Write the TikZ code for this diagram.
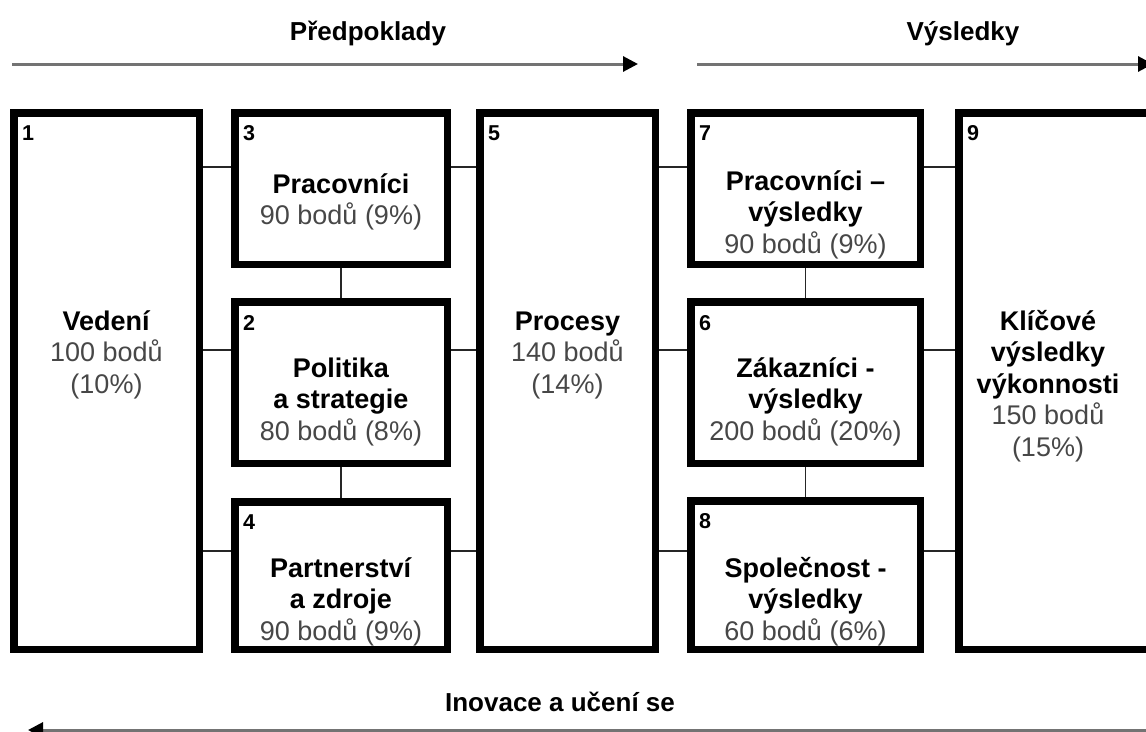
\documentclass[tikz,border=0pt]{standalone}
\usepackage{fontspec}
\setmainfont{Liberation Sans}
\usetikzlibrary{arrows.meta}
\definecolor{ptcol}{gray}{0.28}
\definecolor{flowcol}{gray}{0.45}
\newcommand\ptsline[1]{{\color{ptcol}#1}}
\begin{document}
\begin{tikzpicture}[x=1pt,y=-1pt,
  box/.style={draw=black, line width=7.5pt, rectangle, inner sep=0pt},
  % multi-line nodes: the base anchor sits on the last line
  txt/.style={anchor=base, align=center, inner sep=0pt,
    font=\fontsize{27}{31.5}\selectfont},
  num/.style={anchor=base west, inner sep=0pt,
    font=\fontsize{21.5}{25}\selectfont\bfseries},
  hdr/.style={anchor=base, inner sep=0pt,
    font=\fontsize{26}{30}\selectfont\bfseries},
  link/.style={draw=black!85, line width=1.4pt},
  flow/.style={draw=flowcol, line width=3pt,
    -{Triangle[length=15pt,width=15pt,color=black]}}]
\useasboundingbox (0,0) rectangle (1146,731);

% criteria boxes
\node[box, minimum width=185.5pt, minimum height=536.5pt] (b1) at (106.5,381) {};
\node[box, minimum width=212.5pt, minimum height=151.5pt] (b3) at (341,188.5) {};
\node[box, minimum width=212.5pt, minimum height=161.5pt] (b2) at (341,382.5) {};
\node[box, minimum width=212.5pt, minimum height=147.5pt] (b4) at (341,575.5) {};
\node[box, minimum width=175.5pt, minimum height=536.5pt] (b5) at (567.5,381) {};
\node[box, minimum width=229.5pt, minimum height=151.5pt] (b7) at (805.5,188.5) {};
\node[box, minimum width=229.5pt, minimum height=161.5pt] (b6) at (805.5,382.5) {};
\node[box, minimum width=229.5pt, minimum height=148.5pt] (b8) at (805.5,575) {};
\node[box, minimum width=206.5pt, minimum height=536.5pt] (b9) at (1062,381) {};

% box numbers
\node[num] (n1) at (22,140) {1};
\node[num] (n3) at (243,140) {3};
\node[num] (n2) at (243,330) {2};
\node[num] (n4) at (243,529) {4};
\node[num] (n5) at (488,140) {5};
\node[num] (n7) at (699,140) {7};
\node[num] (n6) at (699,330) {6};
\node[num] (n8) at (699,528) {8};
\node[num] (n9) at (967,140) {9};

% box contents
\node[txt] (t1) at (106.5,393) {\textbf{Vedení}\\\ptsline{100 bodů}\\\ptsline{(10\%)}};
\node[txt] (t3) at (341,224.5) {\textbf{Pracovníci}\\\ptsline{90 bodů (9\%)}};
\node[txt] (t2) at (341,440) {\textbf{Politika}\\\textbf{a strategie}\\\ptsline{80 bodů (8\%)}};
\node[txt] (t4) at (341,640) {\textbf{Partnerství}\\\textbf{a zdroje}\\\ptsline{90 bodů (9\%)}};
\node[txt] (t5) at (567.5,393) {\textbf{Procesy}\\\ptsline{140 bodů}\\\ptsline{(14\%)}};
\node[txt] (t7) at (805.5,253) {\textbf{Pracovníci –}\\\textbf{výsledky}\\\ptsline{90 bodů (9\%)}};
\node[txt] (t6) at (805.5,440) {\textbf{Zákazníci -}\\\textbf{výsledky}\\\ptsline{200 bodů (20\%)}};
\node[txt] (t8) at (805.5,640) {\textbf{Společnost -}\\\textbf{výsledky}\\\ptsline{60 bodů (6\%)}};
\node[txt] (t9) at (1048,456) {\textbf{Klíčové}\\\textbf{výsledky}\\\textbf{výkonnosti}\\\ptsline{150 bodů}\\\ptsline{(15\%)}};

% connector rows
\coordinate (ra) at (0,167);
\coordinate (rb) at (0,350);
\coordinate (rc) at (0,551);

\draw[link] (b1.east |- ra) -- (b3.west |- ra);
\draw[link] (b1.east |- rb) -- (b2.west |- rb);
\draw[link] (b1.east |- rc) -- (b4.west |- rc);
\draw[link] (b3.east |- ra) -- (b5.west |- ra);
\draw[link] (b2.east |- rb) -- (b5.west |- rb);
\draw[link] (b4.east |- rc) -- (b5.west |- rc);
\draw[link] (b5.east |- ra) -- (b7.west |- ra);
\draw[link] (b5.east |- rb) -- (b6.west |- rb);
\draw[link] (b5.east |- rc) -- (b8.west |- rc);
\draw[link] (b7.east |- ra) -- (b9.west |- ra);
\draw[link] (b6.east |- rb) -- (b9.west |- rb);
\draw[link] (b8.east |- rc) -- (b9.west |- rc);
\draw[link] (b3.south) -- (b2.north);
\draw[link] (b2.south) -- (b4.north);
\draw[link] (b7.south) -- (b6.north);
\draw[link] (b6.south) -- (b8.north);

% direction arrows and their labels
\coordinate (a1s) at (12,64);
\coordinate (a1e) at (638,64);
\coordinate (a2s) at (697,64);
\coordinate (a2e) at (1153,64);
\coordinate (a3s) at (1150,730);
\coordinate (a3e) at (28,730);
\draw[flow] (a1s) -- (a1e);
\draw[flow] (a2s) -- (a2e);
\draw[flow] (a3s) -- (a3e);

\node[hdr] (h1) at (368,40) {Předpoklady};
\node[hdr] (h2) at (963,40) {Výsledky};
\node[hdr] (h3) at (560,711) {Inovace a učení se};
\end{tikzpicture}
\end{document}
